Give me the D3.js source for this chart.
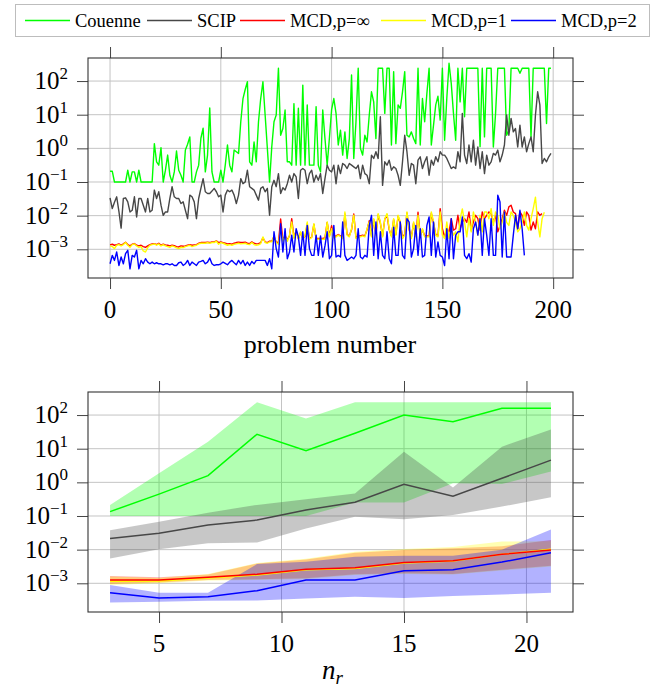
<!DOCTYPE html>
<html>
<head>
<meta charset="utf-8">
<title>Solve times per problem and per n_r</title>
<script src="https://d3js.org/d3.v7.min.js"></script>
<style>
  body { margin: 0; background: #fff; }
  svg text { font-family: "Liberation Serif", "DejaVu Serif", serif; fill: #000; }
</style>
</head>
<body>
<div id="chart"></div>
<script>
// ---- data (log10 of time) ----
// top panel: one value per problem, x = array index
var couenneLog = [-0.68,-0.68,-1,-1,-1,-1,-1,-1,-0.65,-1,
  -0.7,-0.7,-1,-0.65,-1,-1,-1,-1,-1,-1,
  0.14,-0.4,-0.5,0.02,-1,-0.65,-0.2,-0.8,-1,-0.7,
  -0.08,-0.65,-0.8,-1,-0.05,0.12,0.34,-1,-1,-0.7,
  -0.5,0.3,0.6,-0.7,-0.2,1.2,-0.7,-1,-1,-1,
  -0.65,-1,-0.5,0.1,-0.5,-0.7,-0.05,-0.1,-0.15,0.79,
  1.48,1.75,1.98,-0.4,-0.5,0.19,-0.4,0.79,1.48,1.98,
  0.99,0,-1,0.05,0.79,0.99,2.38,0.39,0.59,1.14,
  -0.4,-0.4,-0.5,1.33,-0.5,1.19,-0.5,1.88,-0.5,1.29,
  -0.5,-0.5,-0.5,1.24,-0.5,-0.7,1.14,0.3,-0.5,0.3,
  1.15,1.48,1.04,0.1,0.54,-0.2,0.49,-0.3,0.29,2.18,
  -0.3,0.79,2.38,0,-0.2,0.39,0.19,0.99,1.68,1.38,
  0.29,2.38,2.38,2.38,1.04,2.38,2.38,0.1,2.28,0.14,
  1.29,1.19,1.68,2.28,0.39,0.34,0.49,0.29,0.14,2.38,
  0.1,1.48,0.79,1.63,2.38,0.1,0.69,1.29,1.55,0.84,
  2.38,0.24,1.5,2.53,1.93,1.04,0.24,2.38,1.38,2.38,
  0.94,2.38,2.38,2.38,2.38,2.38,2.38,0.05,2.38,0.34,
  2.38,2.38,2.38,0.04,1.04,2.38,2.38,2.38,2.38,0.39,
  0.54,2.38,2.38,2.38,2.38,2.23,2.38,2.38,2.38,2.38,
  0.34,2.38,2.38,2.38,2.38,2.38,2.38,0.74,2.38,2.38];

var scipLog = [-1.47,-1.79,-1.6,-1.44,-1.87,-2.37,-1.49,-1.47,-1.59,-1.89,
  -1.84,-1.44,-2.04,-1.49,-1.49,-1.69,-1.89,-1.49,-1.89,-1.84,
  -1.24,-1.49,-1.29,-1.69,-1.99,-1.89,-1.89,-1.49,-1.14,-1.44,
  -1.49,-1.49,-1.64,-1.59,-1.84,-2.09,-1.39,-1.44,-1.59,-2.09,
  -1.49,-1.19,-0.9,-1.29,-1.34,-1.34,-1.27,-1.19,-1.29,-1.44,
  -1.39,-1.89,-1.39,-1.24,-1.29,-1.24,-1.39,-1.64,-1.39,-0.9,
  -1.05,-1,-0.65,-1.14,-1.19,-1.24,-1.39,-1.54,-1.19,-1.14,
  -1.29,-1.19,-1.99,-1.14,-0.95,-1.14,-0.75,-1.34,-1.17,-1.24,
  -1.05,-0.8,-1,-0.75,-0.85,-1.49,-0.65,-0.6,-0.65,-1.05,
  -0.75,-0.65,-1,-0.8,-0.95,-0.75,-1.34,-0.9,-0.5,-0.65,
  -0.7,-0.5,-1.05,-0.5,-0.75,-0.45,-0.5,-0.6,-0.45,-0.5,
  -0.55,-0.6,-0.5,-0.9,-0.5,-0.75,-0.8,-1.05,-0.2,-0.3,
  -0.1,-0.3,0.94,-1.1,-0.4,-0.5,-0.35,-0.65,-0.55,-0.6,
  -0.8,-1.1,-0.4,0.39,-0.1,-0.8,-0.45,-0.5,-1.05,-0.35,
  -0.25,-0.6,-0.4,-0.25,-0.8,-0.35,-0.5,-0.25,-0.4,-0.1,
  -0.2,-0.2,-0.3,-0.45,-0.6,-0.55,-0.6,-0.1,-0.4,1.04,
  -0.2,-0.45,0.1,-0.4,0.24,-0.5,0.04,-0.6,-0.1,-0.75,
  -0.2,-0.5,-0.4,-0.15,-0.2,-0.05,-0.4,-0.2,0.1,0.99,
  0.39,0.89,0.49,0.59,0.04,0.69,0.04,0.34,-0.1,0.14,
  0.34,-0.1,0.99,1.68,1.29,-0.45,-0.3,-0.4,-0.25,-0.15];

var mcdInfLog = [-2.87,-2.85,-2.88,-2.86,-2.84,-2.88,-2.84,-2.79,-2.86,-2.9,
  -2.85,-2.83,-2.88,-2.9,-2.88,-2.92,-2.94,-2.9,-2.86,-2.84,
  -2.83,-2.86,-2.82,-2.88,-2.85,-2.87,-2.88,-2.9,-2.88,-2.89,
  -2.92,-2.93,-2.9,-2.91,-2.9,-2.88,-2.86,-2.88,-2.87,-2.86,
  -2.82,-2.8,-2.8,-2.8,-2.79,-2.8,-2.78,-2.78,-2.75,-2.8,
  -2.78,-2.8,-2.82,-2.84,-2.83,-2.85,-2.82,-2.8,-2.79,-2.8,
  -2.8,-2.79,-2.82,-2.83,-2.78,-2.82,-2.84,-2.83,-2.8,-2.66,
  -2.78,-2.8,-2.76,-2.76,-2.62,-2.78,-2.8,-2.1,-2.72,-2.6,
  -2.72,-2.6,-2.09,-2.65,-2.45,-2.68,-2.5,-2.68,-2.62,-2.25,
  -2.68,-2.64,-2.26,-2.68,-2.68,-2.68,-2.68,-2.66,-2.2,-2.6,
  -2.3,-2.64,-2.6,-2.56,-2.6,-2.64,-1.95,-2.56,-2.6,-2.42,
  -1.95,-2.65,-2.6,-2.6,-2.58,-2.6,-2.42,-2.15,-2.6,-2.12,
  -2.56,-1.98,-2.22,-2.6,-2.1,-1.98,-2.42,-2.6,-2.12,-2.56,
  -2.02,-2.22,-2.64,-2.55,-1.92,-2.42,-2.64,-2.22,-2.6,-1.9,
  -2.6,-2.42,-2.6,-2.6,-2.6,-1.93,-2.22,-2.56,-2.6,-1.79,
  -2.39,-2.63,-2.39,-2.48,-2.09,-2.43,-2.39,-1.99,-2.39,-2.19,
  -2.09,-2.2,-1.89,-2.43,-2.19,-1.99,-2.09,-2.43,-1.89,-2.09,
  -1.99,-1.89,-1.94,-2.19,-1.99,-2.48,-2.3,-2.09,-1.84,-1.99,
  -1.74,-1.69,-1.89,-1.94,-2.39,-1.89,-1.99,-2.29,-1.89,-1.99,
  -2.43,-2.19,-2.39,-1.89,-1.99,-1.94];

var mcdOneLog = [-2.9,-2.92,-2.98,-2.88,-2.86,-2.9,-2.86,-2.8,-2.88,-2.94,
  -2.86,-2.84,-2.9,-2.94,-2.92,-3.05,-3.08,-2.95,-2.88,-2.86,
  -2.84,-2.88,-2.84,-2.9,-2.86,-2.9,-2.92,-2.94,-2.9,-2.92,
  -2.96,-2.98,-2.94,-2.95,-2.92,-2.9,-2.88,-2.92,-2.9,-2.88,
  -2.84,-2.82,-2.82,-2.82,-2.8,-2.82,-2.8,-2.8,-2.76,-2.85,
  -2.8,-2.82,-2.85,-2.88,-2.86,-2.88,-2.85,-2.84,-2.82,-2.84,
  -2.83,-2.82,-2.85,-2.86,-2.8,-2.86,-2.88,-2.87,-2.83,-2.63,
  -2.8,-2.82,-2.78,-2.78,-2.6,-2.8,-2.85,-2.39,-2.76,-2.58,
  -2.76,-2.58,-2.19,-2.68,-2.43,-2.7,-2.48,-2.7,-2.6,-2.19,
  -2.7,-2.65,-2.24,-2.7,-2.7,-2.7,-2.7,-2.7,-2.19,-2.63,
  -2.39,-2.66,-2.63,-2.58,-2.62,-2.68,-1.89,-2.58,-2.63,-2.39,
  -1.99,-2.68,-2.63,-2.63,-2.6,-2.63,-2.39,-2.19,-2.63,-2.09,
  -2.58,-1.94,-2.19,-2.63,-2.09,-1.94,-2.39,-2.63,-2.09,-2.58,
  -1.99,-2.19,-2.68,-2.58,-1.89,-2.39,-2.68,-2.19,-2.63,-1.99,
  -2.63,-2.39,-2.63,-2.63,-2.63,-1.89,-2.19,-2.58,-2.63,-1.89,
  -2.58,-2.68,-2.19,-2.68,-2.39,-2.58,-2.48,-2.78,-2.09,-1.8,
  -2.19,-2.63,-2.09,-2.48,-1.89,-2.19,-2.58,-1.99,-2.48,-1.89,
  -1.89,-2.09,-1.79,-2.29,-1.89,-1.99,-2.39,-2.19,-1.89,-2.2,
  -2.29,-1.89,-1.99,-2.19,-2.48,-2.39,-2.19,-1.89,-2.29,-2.43,
  -2.09,-1.79,-1.45,-2.19,-2.63,-2.09,-1.9];

var mcdTwoLog = [-3.43,-3.18,-3.33,-3.08,-3.48,-3.23,-3.43,-3.13,-3.03,-3.58,
  -3.18,-3.23,-3.03,-3.58,-3.33,-3.43,-3.28,-3.38,-3.43,-3.38,
  -3.43,-3.4,-3.43,-3.43,-3.46,-3.43,-3.43,-3.46,-3.43,-3.48,
  -3.48,-3.4,-3.38,-3.48,-3.43,-3.33,-3.48,-3.38,-3.43,-3.48,
  -3.38,-3.36,-3.33,-3.43,-3.38,-3.26,-3.43,-3.48,-3.46,-3.46,
  -3.43,-3.38,-3.42,-3.46,-3.38,-3.33,-3.4,-3.46,-3.33,-3.43,
  -3.33,-3.48,-3.38,-3.48,-3.36,-3.43,-3.33,-3.33,-3.33,-3.33,
  -3.33,-3.48,-3.28,-3.58,-2.48,-2.98,-3.23,-2.24,-3.08,-2.39,
  -3.28,-3.08,-2.58,-3.08,-2.39,-2.63,-3.18,-2.48,-3.18,-2.29,
  -2.98,-3.18,-3.18,-2.58,-3.18,-2.6,-3.23,-2.9,-2.48,-3.28,
  -3.18,-2.29,-3.23,-3.18,-3.23,-2.19,-3.18,-3.33,-3.28,-3.23,
  -3.28,-3.18,-2.39,-3.23,-3.28,-3.18,-3.23,-2.29,-1.99,-3.18,
  -2.19,-3.28,-2.48,-3.18,-3.28,-2.48,-3.28,-3.43,-2.34,-3.18,
  -3.18,-2.19,-3.18,-3.28,-2.09,-2.19,-3.23,-2.98,-2.29,-3.18,
  -2.39,-3.23,-3.18,-2.29,-2.04,-3.18,-2.19,-3.23,-2.78,-3.18,
  -3.23,-3.48,-2.39,-3.28,-2.09,-3.28,-2.58,-2.48,-2.48,-2.04,
  -3.18,-3.28,-3.13,-3.38,-2.39,-2.19,-2.58,-2.09,-3.18,-2.09,
  -2.58,-3.18,-2.09,-3.18,-3.18,-1.39,-1.59,-3.23,-1.89,-3.23,
  -3.23,-3.23,-2.58,-1.99,-2.39,-1.84,-2.39,-3.18];

// bottom panel: median line and band (low / high) per n_r
var nr = [3, 5, 7, 9, 11, 13, 15, 17, 19, 21];
var couenneMed = [-0.87, -0.35, 0.2, 1.43, 0.94, 1.46, 2.0, 1.8, 2.2, 2.2];
var couenneLo  = [-1, -1, -1, -1, -1, -0.6, -0.6, -0.03, -0.05, 0.32];
var couenneHi  = [-0.67, 0.27, 1.21, 2.38, 1.9, 2.38, 2.38, 2.38, 2.38, 2.38];
var scipMed = [-1.67, -1.51, -1.27, -1.12, -0.82, -0.59, -0.06, -0.41, 0.12, 0.66];
var scipLo  = [-2.26, -1.99, -1.81, -1.79, -1.37, -1.02, -1.1, -0.97, -0.72, -0.44];
var scipHi  = [-1.42, -1.17, -0.9, -0.67, -0.5, -0.33, 0.91, -0.15, 1.06, 1.57];
var mcdInfMed = [-2.9, -2.9, -2.82, -2.73, -2.58, -2.54, -2.38, -2.33, -2.14, -2.01];
var mcdInfLo  = [-3.02, -2.98, -2.9, -2.88, -2.85, -2.73, -2.7, -2.72, -2.6, -2.48];
var mcdInfHi  = [-2.78, -2.82, -2.74, -2.41, -2.29, -2.09, -2.01, -1.96, -1.9, -1.71];
var mcdOneMed = [-2.94, -2.93, -2.84, -2.75, -2.6, -2.56, -2.4, -2.34, -2.14, -1.99];
var mcdOneLo  = [-3.05, -3.0, -2.92, -2.9, -2.87, -2.75, -2.72, -2.74, -2.62, -2.5];
var mcdOneHi  = [-2.8, -2.84, -2.72, -2.4, -2.27, -2.06, -1.98, -1.92, -1.76, -1.75];
var mcdTwoMed = [-3.28, -3.44, -3.4, -3.22, -2.9, -2.9, -2.63, -2.6, -2.37, -2.09];
var mcdTwoLo  = [-3.57, -3.55, -3.52, -3.51, -3.45, -3.4, -3.44, -3.38, -3.33, -3.28];
var mcdTwoHi  = [-3.05, -3.28, -3.28, -2.43, -2.36, -2.21, -2.18, -2.18, -2.0, -1.4];

var names = ["Couenne", "SCIP", "MCD,p=\u221e", "MCD,p=1", "MCD,p=2"];
var colors = ["#00ff00", "#474747", "#ff0000", "#ffff00", "#0000ff"];
var problemTicks = [0, 50, 100, 150, 200];
var nrTicks = [5, 10, 15, 20];
var decades = [-3, -2, -1, 0, 1, 2];

// ---- layout ----
var W = 664, H = 688;
var L = 88, R = 573;
var serif = "'Liberation Serif', 'DejaVu Serif', serif";
var svg = d3.select("#chart").append("svg").attr("width", W).attr("height", H)
  .attr("font-family", serif);

function p10(e) { return Math.pow(10, e); }

function panel(id, top, bottom, x, xticks) {
  var y = d3.scaleLog().domain([p10(-3.853), p10(2.685)]).range([bottom, top]);
  var g = svg.append("g");

  // grid
  g.append("g").selectAll("line").data(xticks).join("line")
    .attr("x1", d => x(d)).attr("x2", d => x(d)).attr("y1", top).attr("y2", bottom)
    .attr("stroke", "#c4c4c4").attr("stroke-width", 1);
  g.append("g").selectAll("line").data(decades).join("line")
    .attr("x1", L).attr("x2", R).attr("y1", d => y(p10(d))).attr("y2", d => y(p10(d)))
    .attr("stroke", "#c4c4c4").attr("stroke-width", 1);

  // outward ticks on all four sides
  g.append("g").attr("transform", "translate(0," + bottom + ")")
    .call(d3.axisBottom(x).tickValues(xticks).tickSize(11).tickFormat(""));
  g.append("g").attr("transform", "translate(0," + top + ")")
    .call(d3.axisTop(x).tickValues(xticks).tickSize(11).tickFormat(""));
  g.append("g").attr("transform", "translate(" + L + ",0)")
    .call(d3.axisLeft(y).tickValues(decades.map(p10)).tickSize(11).tickFormat(""));
  g.append("g").attr("transform", "translate(" + R + ",0)")
    .call(d3.axisRight(y).tickValues(decades.map(p10)).tickSize(11).tickFormat(""));
  g.selectAll(".domain").remove();
  g.selectAll(".tick line").attr("stroke", "#444");

  // x tick labels
  g.append("g").selectAll("text").data(xticks).join("text")
    .attr("x", d => x(d)).attr("y", bottom + 40)
    .attr("text-anchor", "middle").attr("font-size", 25).attr("font-family", serif)
    .text(d => d);

  // y tick labels 10^k
  var yl = g.append("g").selectAll("text").data(decades).join("text")
    .attr("x", 68).attr("y", d => y(p10(d)) + 8)
    .attr("text-anchor", "end").attr("font-size", 25).attr("font-family", serif);
  yl.append("tspan").text("10");
  yl.append("tspan").attr("dy", -10).attr("font-size", 17)
    .text(d => d < 0 ? "\u2212" + (-d) : String(d));

  svg.append("clipPath").attr("id", id).append("rect")
    .attr("x", L).attr("y", top).attr("width", R - L).attr("height", bottom - top);

  return { y: y, g: g, top: top, bottom: bottom };
}

function frame(p) {
  p.g.append("rect").attr("x", L).attr("y", p.top)
    .attr("width", R - L).attr("height", p.bottom - p.top)
    .attr("fill", "none").attr("stroke", "#333").attr("stroke-width", 1.1);
}

// ---- top panel ----
var x1 = d3.scaleLinear().domain([-9.95, 208.95]).range([L, R]);
var p1 = panel("clipTop", 58, 278, x1, problemTicks);
var topSeries = [couenneLog, scipLog, mcdInfLog, mcdOneLog, mcdTwoLog];
var plot1 = svg.append("g").attr("clip-path", "url(#clipTop)");
topSeries.forEach(function (s, k) {
  var line = d3.line().x((d, i) => x1(i)).y(d => p1.y(p10(d)));
  plot1.append("path").datum(s)
    .attr("fill", "none").attr("stroke", colors[k]).attr("stroke-width", 1.4)
    .attr("stroke-linejoin", "round").attr("d", line);
});
frame(p1);

svg.append("text").attr("x", 330).attr("y", 353).attr("text-anchor", "middle")
  .attr("font-size", 26).attr("font-family", serif).text("problem number");

// ---- bottom panel ----
var x2 = d3.scaleLinear().domain([2.1, 21.9]).range([L, R]);
var p2 = panel("clipBot", 392, 612, x2, nrTicks);
var plot2 = svg.append("g").attr("clip-path", "url(#clipBot)");
var bands = [[couenneLo, couenneHi], [scipLo, scipHi], [mcdInfLo, mcdInfHi], [mcdOneLo, mcdOneHi], [mcdTwoLo, mcdTwoHi]];
var meds = [couenneMed, scipMed, mcdInfMed, mcdOneMed, mcdTwoMed];

bands.forEach(function (b, k) {
  var area = d3.area().x((d, i) => x2(nr[i]))
    .y0((d, i) => p2.y(p10(b[0][i]))).y1((d, i) => p2.y(p10(b[1][i])));
  plot2.append("path").datum(nr).attr("d", area)
    .attr("fill", colors[k]).attr("fill-opacity", 0.3).attr("stroke", "none");
});
[0, 1, 3, 2, 4].forEach(function (k) {
  var line = d3.line().x((d, i) => x2(nr[i])).y(d => p2.y(p10(d)));
  plot2.append("path").datum(meds[k]).attr("d", line)
    .attr("fill", "none").attr("stroke", colors[k]).attr("stroke-width", 1.5);
});
frame(p2);

var nlab = svg.append("text").attr("x", 322).attr("y", 679)
  .attr("font-size", 27).attr("font-style", "italic").attr("font-family", serif);
nlab.append("tspan").text("n");
nlab.append("tspan").attr("dy", 5).attr("font-size", 19).text("r");

// ---- legend ----
svg.append("rect").attr("x", 15.5).attr("y", 4.5).attr("width", 634).attr("height", 32)
  .attr("fill", "#fff").attr("stroke", "#bdbdbd").attr("stroke-width", 1);
var legX = [25, 147, 240, 381, 511];
var leg = svg.append("g").selectAll("g").data(names).join("g")
  .attr("transform", (d, i) => "translate(" + legX[i] + ",20.5)");
leg.append("line").attr("x1", 0).attr("x2", 45).attr("stroke", (d, i) => colors[i]).attr("stroke-width", 1.4);
leg.append("text").attr("x", 50).attr("y", 6.5).attr("font-size", 18.5).attr("font-family", serif).text(d => d);
</script>
</body>
</html>
